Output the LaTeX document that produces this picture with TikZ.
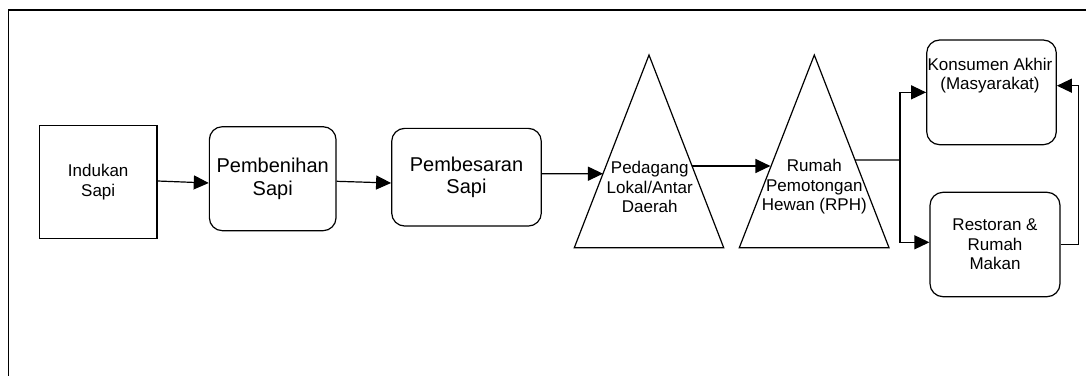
\documentclass[tikz,border=0pt]{standalone}
\usepackage{fontspec}
\setmainfont{Liberation Sans}
\usetikzlibrary{arrows.meta,calc}
\begin{document}
\begin{tikzpicture}[x=1pt,y=-1pt,line width=1.2pt,
  sq/.style={draw,rectangle,inner sep=0pt,align=center},
  rbox/.style={draw,rectangle,rounded corners=13pt,inner sep=0pt,align=center},
  txt/.style={inner sep=0pt,align=center,font=\fontsize{17}{19.5}\selectfont},
  big/.style={font=\fontsize{20}{22.5}\selectfont},
  arr/.style={-{Triangle[length=15pt,width=14pt]}}]
\useasboundingbox (0,0) rectangle (1086,375);
% frame
\coordinate (fb) at (8.5,376);
\coordinate (ft) at (8.5,10);
\coordinate (fr) at (1087,10);
\draw[line width=1.6pt] (fb) -- (ft) -- (fr);
% boxes
\node[sq,minimum width=117.7pt,minimum height=112.6pt,txt] (ind) at (98.2,182) {Indukan\\Sapi};
\node[rbox,minimum width=126.7pt,minimum height=104pt,big] (pbn) at (272.7,178.7) {Pembenihan\\Sapi};
\node[rbox,minimum width=149.6pt,minimum height=97.7pt,big] (pbs) at (466.5,177.2) {Pembesaran\\Sapi};
\node[rbox,minimum width=129.6pt,minimum height=104.7pt] (kons) at (991.5,92.35) {};
\node[txt] (konsT) at (990,75.7) {Konsumen Akhir\\(Masyarakat)};
\node[rbox,minimum width=130pt,minimum height=104.4pt,txt] (rest) at (995,244.5) {Restoran \&\\Rumah\\Makan};
% triangles
\coordinate (pedA) at (649,55);
\coordinate (pedBL) at (574.3,247.7);
\coordinate (pedBR) at (723.7,247.7);
\draw (pedA) -- (pedBR) -- (pedBL) -- cycle;
\node[txt] (pedT) at (649.7,187) {Pedagang\\Lokal/Antar\\Daerah};
\coordinate (rhA) at (814.3,55);
\coordinate (rhBL) at (739.3,247.7);
\coordinate (rhBR) at (889,247.7);
\draw (rhA) -- (rhBR) -- (rhBL) -- cycle;
\node[txt] (rhT) at (814.3,187) {Rumah\\Pemotongan\\Hewan (RPH)};
\coordinate (pedL) at ($(pedA)!0.616!(pedBL)$);
\coordinate (pedR) at ($(pedA)!0.576!(pedBR)$);
\coordinate (rhL) at ($(rhA)!0.585!(rhBL)$);
\coordinate (rhR) at ($(rhA)!0.545!(rhBR)$);
\coordinate (sp) at (900,160);
% connectors
\draw[arr] ([yshift=1pt]ind.east) -- ([yshift=-4.3pt]pbn.west);
\draw[arr] ([yshift=-2.6pt]pbn.east) -- ([yshift=-5.8pt]pbs.west);
\draw[arr] ([yshift=3.5pt]pbs.east) -- (pedL);
\draw[arr] (pedR) -- (pedR -| rhL);
\draw (rhR) -- (sp);
\draw[arr] (sp) |- (kons.west);
\draw[arr] (sp) |- ([yshift=2.2pt]rest.west);
\draw[arr] (rest.east) -- ++(17.7,0) |- ([yshift=6.65pt]kons.east);
\end{tikzpicture}
\end{document}
